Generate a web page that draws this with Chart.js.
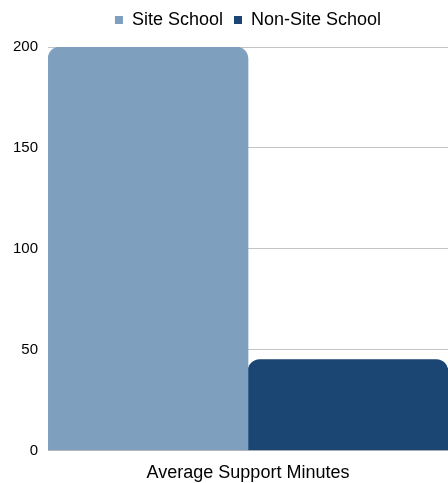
<!DOCTYPE html>
<html><head><meta charset="utf-8">
<script src="https://cdn.jsdelivr.net/npm/chart.js@4"></script>
<style>html,body{margin:0;padding:0;background:#fff}#w{width:448px;height:483px}</style>
</head><body><div id="w"><canvas id="c"></canvas></div>
<script>
const categories = ["Average Support Minutes"];
const seriesNames = ["Site School", "Non-Site School"];
const siteSchool = [200];
const nonSiteSchool = [45];
const yTicks = [0, 50, 100, 150, 200];

const legendGap = {id: 'legendGap',
  beforeInit(chart) {
    const orig = chart.legend.fit;
    chart.legend.fit = function () { orig.call(this); this.height += 8; };
  },
  afterLayout(chart) {
    chart.legend.left = chart.chartArea.left;
  }
};

new Chart(document.getElementById('c'), {
  type: 'bar',
  data: {
    labels: categories,
    datasets: [
      {label: seriesNames[0], data: siteSchool, backgroundColor: '#7f9fbf', borderRadius: {topLeft: 12, topRight: 12}, borderSkipped: 'bottom'},
      {label: seriesNames[1], data: nonSiteSchool, backgroundColor: '#1b4572', borderRadius: {topLeft: 12, topRight: 12}, borderSkipped: 'bottom'}
    ]
  },
  plugins: [legendGap],
  options: {
    responsive: true, maintainAspectRatio: false, animation: false,
    layout: {padding: {left: 3, right: 0, top: 0, bottom: -13}},
    datasets: {bar: {barPercentage: 1, categoryPercentage: 1}},
    plugins: {
      legend: {position: 'top', labels: {boxWidth: 8, boxHeight: 8, padding: 11, color: '#000', font: {family: 'Liberation Sans, Arial', size: 18}}},
      tooltip: {enabled: false}
    },
    scales: {
      x: {grid: {display: false, drawTicks: false}, border: {color: '#bbb'}, ticks: {color: '#000', padding: 12, font: {family: 'Liberation Sans, Arial', size: 18}}},
      y: {min: 0, max: 200, afterBuildTicks: ax => { ax.ticks = yTicks.map(v => ({value: v})); },
          grid: {color: '#c4c4c4', drawTicks: false}, border: {display: false},
          ticks: {color: '#000', padding: 10, font: {family: 'Liberation Sans, Arial', size: 15}}}
    }
  }
});
</script></body></html>
